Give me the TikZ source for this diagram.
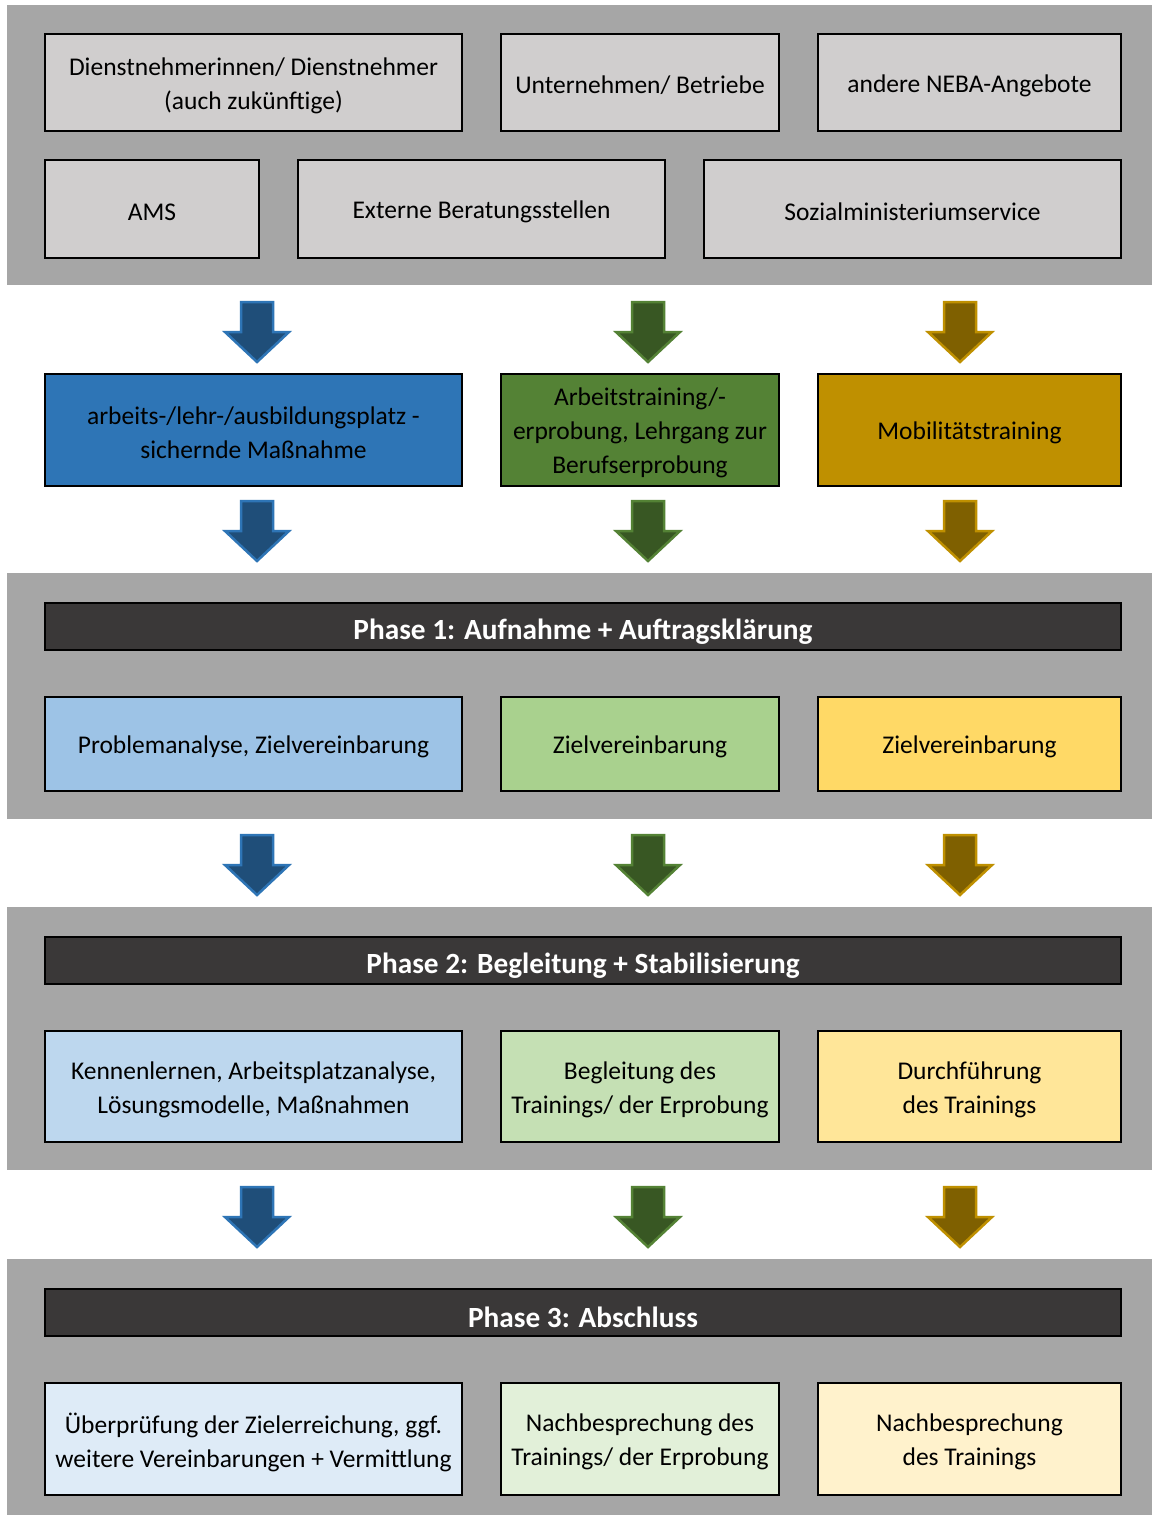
\documentclass[tikz,border=0pt]{standalone}
\usepackage{fontspec}
\setmainfont{Carlito}
\definecolor{band}{HTML}{A6A6A6}
\definecolor{lgray}{HTML}{D0CECE}
\definecolor{bar}{HTML}{3A3838}
\definecolor{cBlue}{HTML}{2E75B6}
\definecolor{cGreen}{HTML}{548235}
\definecolor{cGold}{HTML}{BF9000}
\definecolor{aBlue}{HTML}{1F4E79}
\definecolor{aGreen}{HTML}{385723}
\definecolor{aGold}{HTML}{7F6000}
\definecolor{b1}{HTML}{9DC3E6}
\definecolor{g1}{HTML}{A9D18E}
\definecolor{y1}{HTML}{FFD966}
\definecolor{b2}{HTML}{BDD7EE}
\definecolor{g2}{HTML}{C5E0B4}
\definecolor{y2}{HTML}{FFE699}
\definecolor{b3}{HTML}{DEEBF7}
\definecolor{g3}{HTML}{E2F0D9}
\definecolor{y3}{HTML}{FFF2CC}
\tikzset{
  x=1pt,y=-1pt,
  bandbox/.style={fill=band,draw=none},
  box/.style={draw=black,line width=2pt,rectangle,inner sep=0pt},
  txt/.style={align=center,inner sep=0pt,font=\fontsize{25.5}{34}\selectfont,text=black},
  phasebar/.style={box,fill=bar,minimum width=1076pt,minimum height=47pt},
  phasetxt/.style={align=center,inner sep=0pt,text=white,font=\fontsize{29.3}{30}\selectfont\bfseries},
  barrow/.style={line width=2.5pt,line join=miter}
}
% style, name, x, y, w, h, text
\newcommand{\tbox}[7]{%
  \node[box,fill=#1,minimum width=#5pt,minimum height=#6pt] (#2) at (#3,#4) {};
  \node[txt] (#2-t) at ([yshift=-3pt]#2.center) {#7};}
\newcommand{\pbar}[3]{%
  \node[phasebar] (#1) at (583,#2) {};
  \node[phasetxt] (#1-t) at ([yshift=-5pt]#1.center) {#3};}
\newcommand{\blockarrow}[4]{% x, ytop, fill, draw
  \filldraw[barrow,fill=#3,draw=#4] (#1-16,#2) -- (#1+16,#2) -- (#1+16,#2+30) -- (#1+32,#2+30)
    -- (#1,#2+60) -- (#1-32,#2+30) -- (#1-16,#2+30) -- cycle;}
\begin{document}
\begin{tikzpicture}
\useasboundingbox (0,0) rectangle (1152,1515);
\fill[white] (0,0) rectangle (1152,1515);
% bands
\fill[bandbox] (7,5) rectangle (1152,285);
\fill[bandbox] (7,573) rectangle (1152,819);
\fill[bandbox] (7,907) rectangle (1152,1170);
\fill[bandbox] (7,1259) rectangle (1152,1515);
% sources
\tbox{lgray}{dn}{253.5}{82.5}{417}{97}{Dienstnehmerinnen/ Dienstnehmer\\(auch zukünftige)}
\tbox{lgray}{ub}{640}{82.5}{278}{97}{Unternehmen/ Betriebe}
\tbox{lgray}{neba}{969.5}{82.5}{303}{97}{andere NEBA-Angebote}
\tbox{lgray}{ams}{152}{209}{214}{98}{AMS}
\tbox{lgray}{ext}{481.5}{209}{367}{98}{Externe Beratungsstellen}
\tbox{lgray}{sms}{912.5}{209}{417}{98}{Sozialministeriumservice}
% arrows row 1
\blockarrow{257}{302}{aBlue}{cBlue}
\blockarrow{648}{302}{aGreen}{cGreen}
\blockarrow{960}{302}{aGold}{cGold}
% programmes
\tbox{cBlue}{m1}{253.5}{430}{417}{112}{arbeits-/lehr-/ausbildungsplatz -\\sichernde Maßnahme}
\tbox{cGreen}{m2}{640}{430}{278}{112}{Arbeitstraining/-\\erprobung, Lehrgang zur\\Berufserprobung}
\tbox{cGold}{m3}{969.5}{430}{303}{112}{Mobilitätstraining}
% arrows row 2
\blockarrow{257}{501}{aBlue}{cBlue}
\blockarrow{648}{501}{aGreen}{cGreen}
\blockarrow{960}{501}{aGold}{cGold}
% phase 1
\pbar{p1}{626.5}{Phase 1: Aufnahme + Auftragsklärung}
\tbox{b1}{p1a}{253.5}{744}{417}{94}{Problemanalyse, Zielvereinbarung}
\tbox{g1}{p1b}{640}{744}{278}{94}{Zielvereinbarung}
\tbox{y1}{p1c}{969.5}{744}{303}{94}{Zielvereinbarung}
% arrows row 3
\blockarrow{257}{835}{aBlue}{cBlue}
\blockarrow{648}{835}{aGreen}{cGreen}
\blockarrow{960}{835}{aGold}{cGold}
% phase 2
\pbar{p2}{960.5}{Phase 2: Begleitung + Stabilisierung}
\tbox{b2}{p2a}{253.5}{1086.5}{417}{111}{Kennenlernen, Arbeitsplatzanalyse,\\Lösungsmodelle, Maßnahmen}
\tbox{g2}{p2b}{640}{1086.5}{278}{111}{Begleitung des\\Trainings/ der Erprobung}
\tbox{y2}{p2c}{969.5}{1086.5}{303}{111}{Durchführung\\des Trainings}
% arrows row 4
\blockarrow{257}{1187}{aBlue}{cBlue}
\blockarrow{648}{1187}{aGreen}{cGreen}
\blockarrow{960}{1187}{aGold}{cGold}
% phase 3
\pbar{p3}{1312}{Phase 3: Abschluss}
\tbox{b3}{p3a}{253.5}{1439}{417}{112}{Überprüfung der Zielerreichung, ggf.\\weitere Vereinbarungen + Vermittlung}
\tbox{g3}{p3b}{640}{1439}{278}{112}{Nachbesprechung des\\Trainings/ der Erprobung}
\tbox{y3}{p3c}{969.5}{1439}{303}{112}{Nachbesprechung\\des Trainings}
\end{tikzpicture}
\end{document}
